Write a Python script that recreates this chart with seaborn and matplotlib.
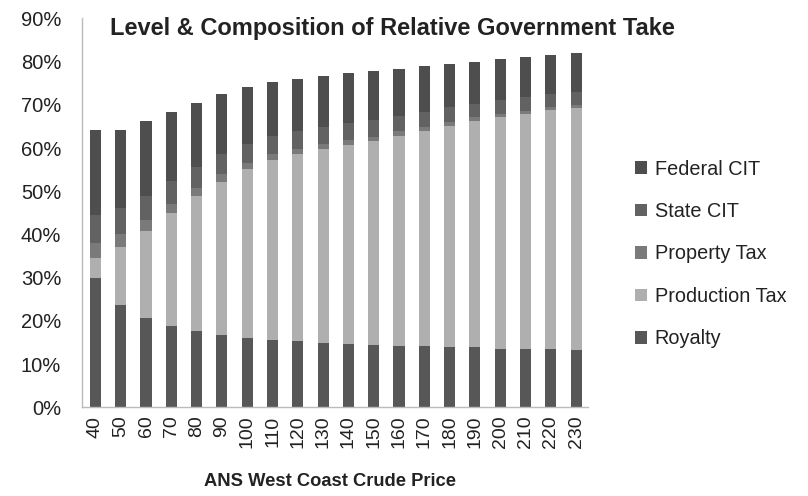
import matplotlib
matplotlib.use("Agg")
import matplotlib.pyplot as plt
from matplotlib.patches import Patch
from matplotlib.ticker import FixedLocator
import seaborn as sns
import pandas as pd
import numpy as np

prices = [40, 50, 60, 70, 80, 90, 100, 110, 120, 130, 140, 150, 160, 170, 180, 190, 200, 210, 220, 230]
royalty = [30.0, 23.7, 20.6, 18.8, 17.7, 16.8, 16.1, 15.6, 15.3, 15.0, 14.7, 14.4, 14.2, 14.1, 14.0, 13.9, 13.6, 13.6, 13.6, 13.3]
production_tax = [4.5, 13.5, 20.1, 26.1, 31.2, 35.4, 39.0, 41.6, 43.3, 44.8, 46.0, 47.2, 48.7, 49.9, 51.1, 52.4, 53.5, 54.3, 55.2, 55.9]
property_tax = [3.5, 3.0, 2.6, 2.2, 1.9, 1.7, 1.5, 1.4, 1.3, 1.2, 1.1, 1.0, 1.0, 0.9, 0.9, 0.8, 0.8, 0.8, 0.7, 0.7]
state_cit = [6.5, 6.0, 5.7, 5.3, 4.9, 4.7, 4.4, 4.1, 4.0, 3.9, 3.9, 3.8, 3.6, 3.5, 3.4, 3.2, 3.2, 3.1, 3.0, 3.0]
federal_cit = [19.7, 18.0, 17.3, 15.9, 14.8, 14.0, 13.2, 12.5, 12.0, 11.8, 11.6, 11.4, 10.9, 10.6, 10.1, 9.7, 9.5, 9.4, 9.0, 9.0]

series_names = ["Royalty", "Production Tax", "Property Tax", "State CIT", "Federal CIT"]
series_vals = [royalty, production_tax, property_tax, state_cit, federal_cit]
colors = {"Royalty": "#575757", "Production Tax": "#afafaf", "Property Tax": "#7a7a7a",
          "State CIT": "#626262", "Federal CIT": "#4e4e4e"}

sns.set_theme(style="white")
plt.rcParams["font.family"] = ["Liberation Sans", "DejaVu Sans"]

fig = plt.figure(figsize=(8.08, 4.96), dpi=100)
ax = fig.add_axes([82/808, 1-407.3/496, (588-82)/808, (407.3-18.5)/496])

df = pd.DataFrame({"price": [str(p) for p in prices]})
cum = np.zeros(len(prices))
cums = []
for name, vals in zip(series_names, series_vals):
    cum = cum + np.array(vals)
    cums.append((name, cum.copy()))
    df[name] = cum.copy()

# draw from the top layer down so each lower layer covers the upper one's base
for name, _ in reversed(cums):
    sns.barplot(data=df, x="price", y=name, color=colors[name], width=0.44,
                saturation=1, ax=ax, edgecolor="none", linewidth=0)

ax.set_ylim(0, 90)
ax.set_xlim(-0.53, 19.47)
ax.set_yticks(np.arange(0, 91, 10))
ax.set_yticklabels([f"{v}%" for v in range(0, 91, 10)], fontsize=14.5, color="#222222")
ax.set_xticks(range(len(prices)))
ax.set_xticklabels([str(p) for p in prices], rotation=90, fontsize=14, color="#222222")
ax.xaxis.set_minor_locator(FixedLocator(np.arange(len(prices)) + 0.5))
ax.tick_params(axis="x", which="major", length=0, pad=6)
ax.tick_params(axis="x", which="minor", length=5, color="#bbbbbb", direction="out")
ax.tick_params(axis="y", which="major", length=5, color="#bbbbbb", direction="out", pad=10)
ax.set_ylabel("")
ax.set_xlabel("")

for s in ["top", "right"]:
    ax.spines[s].set_visible(False)
for s in ["left", "bottom"]:
    ax.spines[s].set_color("#bbbbbb")
    ax.spines[s].set_linewidth(1)

fig.text(392/808, 1-29/496, "Level & Composition of Relative Government Take",
         ha="center", va="center", fontsize=17, fontweight="bold", color="#222222")
fig.text(330/808, 1-482/496, "ANS West Coast Crude Price",
         ha="center", va="center", fontsize=13.2, fontweight="bold", color="#222222")

legend_order = ["Federal CIT", "State CIT", "Property Tax", "Production Tax", "Royalty"]
handles = [Patch(facecolor=colors[n], edgecolor="none", label=n) for n in legend_order]
fig.legend(handles=handles, loc="center left", bbox_to_anchor=(617/808, 1-254/496),
           frameon=False, fontsize=14.3, labelspacing=1.18, handlelength=0.6,
           handleheight=0.6, handletextpad=0.4, labelcolor="#222222")

fig.savefig("out.png", dpi=100)
